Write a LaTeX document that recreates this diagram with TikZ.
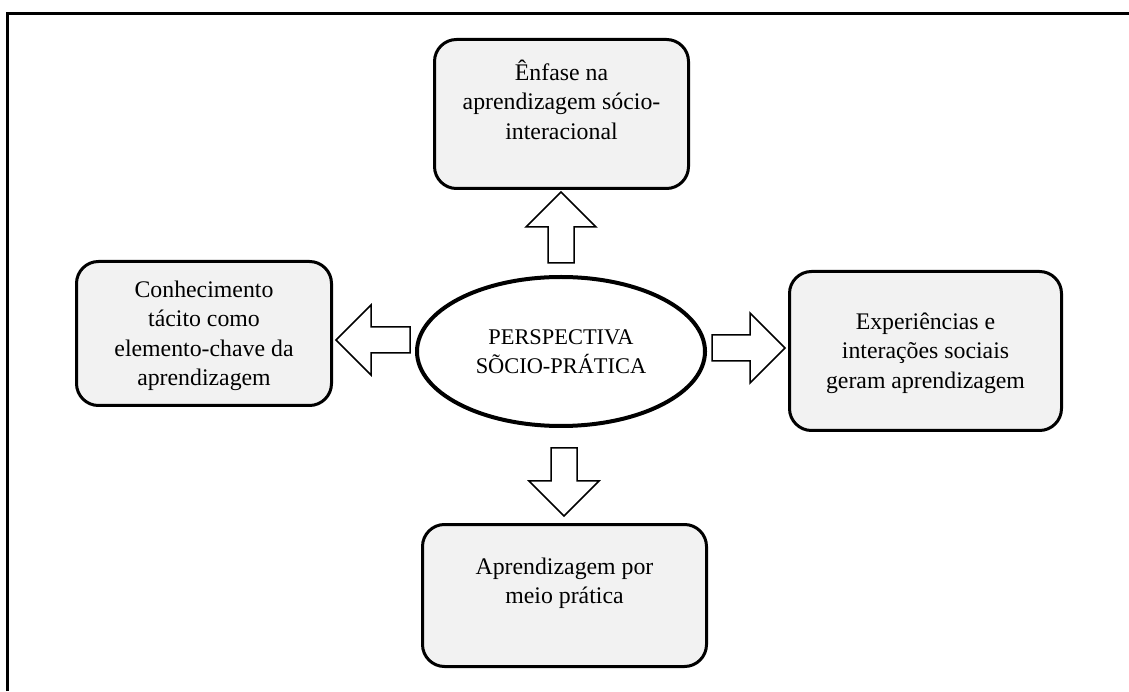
\documentclass[tikz,border=0pt]{standalone}
\usepackage{fontspec}
\setmainfont{Liberation Serif}
\usetikzlibrary{shapes.geometric,calc}
\definecolor{boxgray}{HTML}{F2F2F2}
\tikzset{
  frameline/.style={line width=3pt},
  topic/.style={draw=black, line width=3pt, fill=boxgray, rounded corners=22pt, inner sep=0pt},
  topictext/.style={align=center, inner sep=0pt, font=\fontsize{23.8}{29.5}\selectfont},
  core/.style={ellipse, draw=black, line width=4pt, fill=white, inner sep=0pt,
    minimum width=288pt, minimum height=149pt, align=center,
    font=\fontsize{22.4}{29}\selectfont},
  % hollow block arrow from the start point (tail) to the target (tip)
  blockarrow/.style={line width=1.5pt, draw=black, fill=white,
    to path={let \p1=(\tikztostart), \p2=(\tikztotarget), \p3=($(\p2)!35pt!(\p1)$) in
      ($(\p1)!13pt!90:(\p2)$) -- ($(\p3)!13pt!90:(\p2)$) -- ($(\p3)!35pt!90:(\p2)$)
      -- (\p2) -- ($(\p3)!35pt!-90:(\p2)$) -- ($(\p3)!13pt!-90:(\p2)$)
      -- ($(\p1)!13pt!-90:(\p2)$) -- cycle}},
}
\begin{document}
\begin{tikzpicture}[x=1pt,y=1pt]
\useasboundingbox (0,0) rectangle (1129,691);

% outer frame (top and left edges)
\draw[frameline] (7.5,0) -- (7.5,677) -- (1129,677);

% central ellipse
\node[core] (ell) at (561,339.5) {PERSPECTIVA\\SÕCIO-PRÁTICA};

% surrounding boxes
\node[topic, minimum width=254pt, minimum height=149pt] (top) at (561.5,577) {};
\node[topictext] (topT) at ($(top.center)+(0,14.5)$) {Ênfase na\\aprendizagem sócio-\\interacional};

\node[topic, minimum width=255pt, minimum height=144pt] (left) at (204,357.5) {};
\node[topictext] (leftT) at ($(left.center)+(0,-2.5)$) {Conhecimento\\tácito como\\elemento-chave da\\aprendizagem};

\node[topic, minimum width=272pt, minimum height=159pt] (right) at (925.5,340) {};
\node[topictext] (rightT) at ($(right.center)+(0,-2)$) {Experiências e\\interações sociais\\geram aprendizagem};

\node[topic, minimum width=284pt, minimum height=142pt] (bot) at (564.5,95.5) {};
\node[topictext] (botT) at ($(bot.center)+(0,12)$) {Aprendizagem por\\meio prática};

% arrow end points
\coordinate (upTail) at (561,428);
\coordinate (upTip) at (561,499);
\coordinate (dnTail) at (564,243);
\coordinate (dnTip) at (564,175);
\coordinate (lfTail) at (410,351);
\coordinate (lfTip) at (336,351);
\coordinate (rtTail) at (712,343);
\coordinate (rtTip) at (785,343);

% block arrows
\draw[blockarrow] (upTail) to (upTip);
\draw[blockarrow] (dnTail) to (dnTip);
\draw[blockarrow] (lfTail) to (lfTip);
\draw[blockarrow] (rtTail) to (rtTip);
\end{tikzpicture}
\end{document}
